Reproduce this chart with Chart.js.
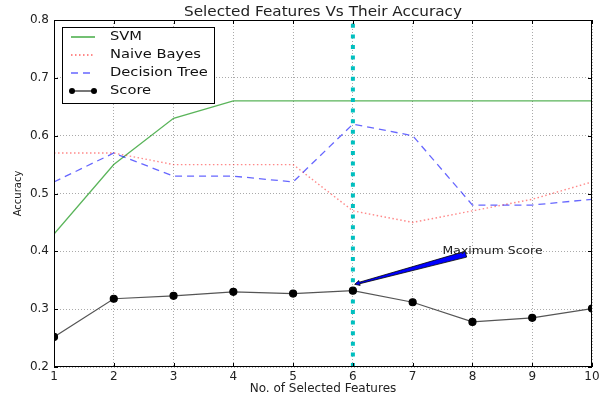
<!DOCTYPE html>
<html>
<head>
<meta charset="utf-8">
<script src="https://cdn.jsdelivr.net/npm/chart.js@4/dist/chart.umd.min.js"></script>
<style>
  html, body { margin: 0; padding: 0; background: #fff; }
  #wrap { width: 606px; height: 396px; }
</style>
</head>
<body>
<div id="wrap"><canvas id="chart" width="606" height="396"></canvas></div>
<script>
const features = [1, 2, 3, 4, 5, 6, 7, 8, 9, 10];
const svm = [0.43, 0.55, 0.63, 0.66, 0.66, 0.66, 0.66, 0.66, 0.66, 0.66];
const naiveBayes = [0.57, 0.57, 0.55, 0.55, 0.55, 0.47, 0.45, 0.47, 0.49, 0.52];
const decisionTree = [0.52, 0.57, 0.53, 0.53, 0.52, 0.62, 0.60, 0.48, 0.48, 0.49];
const score = [0.252, 0.318, 0.323, 0.330, 0.327, 0.332, 0.312, 0.278, 0.285, 0.301];
const yTickLabels = ["0.2", "0.3", "0.4", "0.5", "0.6", "0.7", "0.8"];
const bestK = 6;
const annText = "Maximum Score";
const annTextAt = [7.5, 0.40];
const annTail = [7.89, 0.395];
const annHead = [6.03, 0.343];

const FONT = "'DejaVu Sans', sans-serif";
const pts = vals => vals.map((v, i) => ({ x: features[i], y: v }));

const series = [
  { label: "SVM", data: pts(svm), color: "rgba(0,140,0,0.65)", dash: [], width: 1.3 },
  { label: "Naive Bayes", data: pts(naiveBayes), color: "rgba(255,40,40,0.55)", dash: [1.5, 2.5], width: 1.4 },
  { label: "Decision Tree", data: pts(decisionTree), color: "rgba(0,0,255,0.6)", dash: [7, 5], width: 1.3 },
];

// text is a bit wider in the reference than its height suggests
function wideText(ctx, str, px, py, align) {
  const sx = 1.13;
  ctx.save();
  ctx.translate(px, py);
  ctx.scale(sx, 1);
  ctx.textAlign = align;
  ctx.fillText(str, 0, 0);
  ctx.restore();
}

// frame, inward ticks, title, legend, annotation
const extras = {
  id: "extras",
  afterDraw(c) {
    const { ctx, chartArea: a, scales: { x, y } } = c;
    ctx.save();
    ctx.strokeStyle = "#000";
    ctx.lineWidth = 1;
    ctx.setLineDash([]);
    ctx.strokeRect(a.left + 0.5, a.top + 0.5, a.right - a.left - 1, a.bottom - a.top - 1);
    ctx.beginPath();
    features.forEach(f => {
      const px = Math.round(x.getPixelForValue(f)) + 0.5;
      ctx.moveTo(px, a.bottom); ctx.lineTo(px, a.bottom - 4);
      ctx.moveTo(px, a.top); ctx.lineTo(px, a.top + 4);
    });
    yTickLabels.forEach(t => {
      const py = Math.round(y.getPixelForValue(+t)) + 0.5;
      ctx.moveTo(a.left, py); ctx.lineTo(a.left + 4, py);
      ctx.moveTo(a.right, py); ctx.lineTo(a.right - 4, py);
    });
    ctx.stroke();

    // title
    ctx.fillStyle = "#222";
    ctx.font = "13.5px " + FONT;
    ctx.textBaseline = "middle";
    wideText(ctx, "Selected Features Vs Their Accuracy", (a.left + a.right) / 2, 12, "center");

    // annotation arrow
    const hx = x.getPixelForValue(annHead[0]), hy = y.getPixelForValue(annHead[1]);
    const tx = x.getPixelForValue(annTail[0]), ty = y.getPixelForValue(annTail[1]);
    const dx = hx - tx, dy = hy - ty, len = Math.hypot(dx, dy);
    const ux = dx / len, uy = dy / len, nx = -uy, ny = ux;
    const wT = 3, wH = 0.8;
    const bx = hx - ux * 5, by = hy - uy * 5;
    ctx.beginPath();
    ctx.moveTo(tx + nx * wT, ty + ny * wT);
    ctx.lineTo(bx + nx * wH, by + ny * wH);
    ctx.lineTo(bx + nx * 2.5, by + ny * 2.5);
    ctx.lineTo(hx, hy);
    ctx.lineTo(bx - nx * 2.5, by - ny * 2.5);
    ctx.lineTo(bx - nx * wH, by - ny * wH);
    ctx.lineTo(tx - nx * wT, ty - ny * wT);
    ctx.closePath();
    ctx.fillStyle = "#0000ff";
    ctx.fill();
    ctx.strokeStyle = "#000";
    ctx.lineWidth = 0.8;
    ctx.stroke();
    ctx.fillStyle = "#222";
    ctx.font = "11px " + FONT;
    ctx.textBaseline = "middle";
    wideText(ctx, annText, x.getPixelForValue(annTextAt[0]), y.getPixelForValue(annTextAt[1]), "left");

    // legend
    const lx = 62, ly = 27, lw = 152, lh = 76;
    ctx.fillStyle = "#fff";
    ctx.fillRect(lx, ly, lw, lh);
    ctx.strokeStyle = "#000";
    ctx.lineWidth = 1;
    ctx.strokeRect(lx + 0.5, ly + 0.5, lw, lh);
    const rows = [...series, { label: "Score", color: "#555", dash: [], width: 1.2, marker: true }];
    rows.forEach((s, i) => {
      const ry = 37 + i * 18;
      ctx.beginPath();
      ctx.setLineDash(s.dash);
      ctx.strokeStyle = s.color;
      ctx.lineWidth = s.width + 0.4;
      ctx.moveTo(71, ry); ctx.lineTo(95, ry);
      ctx.stroke();
      ctx.setLineDash([]);
      if (s.marker) {
        ctx.fillStyle = "#000";
        [72, 94].forEach(mx => { ctx.beginPath(); ctx.arc(mx, ry, 3, 0, Math.PI * 2); ctx.fill(); });
      }
      ctx.fillStyle = "#111";
      ctx.font = "13px " + FONT;
      ctx.textBaseline = "middle";
      wideText(ctx, s.label, 110, ry, "left");
    });
    ctx.restore();
  }
};

new Chart(document.getElementById("chart"), {
  type: "line",
  data: {
    datasets: [
      ...series.map((s, i) => ({
        label: s.label, data: s.data, borderColor: s.color, borderDash: s.dash,
        borderWidth: s.width, pointRadius: 0, fill: false, tension: 0, order: 5 - i
      })),
      {
        label: "best", data: [{ x: bestK, y: 0.2 }, { x: bestK, y: 0.8 }],
        borderColor: "#00bfbf", borderWidth: 4, borderDash: [4, 6.6], borderCapStyle: "butt",
        pointRadius: 0, order: 1
      },
      {
        label: "Score", data: pts(score), borderColor: "#555", borderWidth: 1.2,
        pointRadius: 3.5, pointBackgroundColor: "#000", pointBorderColor: "#000", order: 0
      }
    ]
  },
  options: {
    responsive: false, animation: false, devicePixelRatio: 1,
    layout: { padding: { top: 20, right: 14, left: 0, bottom: 0 } },
    plugins: { legend: { display: false }, tooltip: { enabled: false } },
    scales: {
      x: {
        type: "linear", min: 1, max: 10,
        afterFit: s => { s.height = 29; },
        grid: { color: "#aaa", drawTicks: false },
        border: { display: false, dash: [1, 2] },
        ticks: { stepSize: 1, padding: 3, color: "#222", font: { family: FONT, size: 12 } },
        title: { display: true, text: "No. of Selected Features", color: "#222",
                 font: { family: FONT, size: 12 }, padding: { top: 0, bottom: 0 } }
      },
      y: {
        min: 0.2, max: 0.8,
        afterFit: s => { s.width = 54; },
        afterBuildTicks: s => { s.ticks = yTickLabels.map(t => ({ value: +t })); },
        grid: { color: "#aaa", drawTicks: false },
        border: { display: false, dash: [1, 2] },
        ticks: { padding: 5, color: "#222", font: { family: FONT, size: 12 },
                 callback: v => yTickLabels.find(t => +t === +v.toFixed(1)) },
        title: { display: true, text: "Accuracy", color: "#222",
                 font: { family: FONT, size: 10 }, padding: { top: 12, bottom: 0 } }
      }
    }
  },
  plugins: [extras]
});
</script>
</body>
</html>
